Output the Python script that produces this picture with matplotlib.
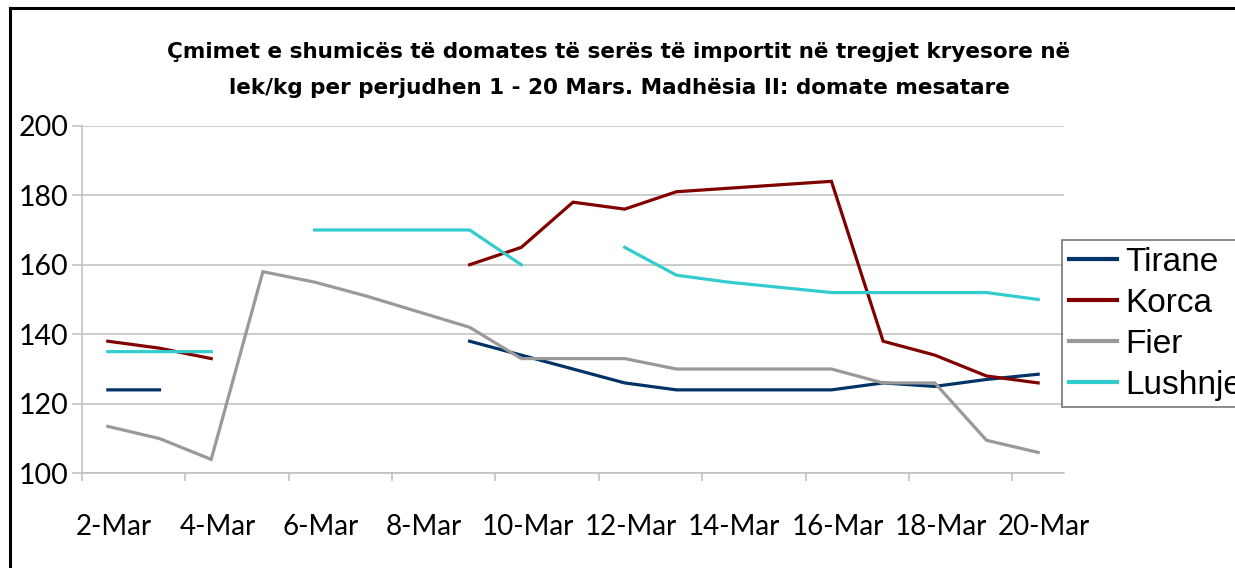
import numpy as np
import matplotlib
matplotlib.use("Agg")
import matplotlib.pyplot as plt
from matplotlib.lines import Line2D

dates = [f"{d}-Mar" for d in range(2, 21)]
nan = np.nan

tirane = [124, 124, nan, nan, nan, nan, nan, 138, 134, 130, 126, 124, 124, 124, 124, 126, 125, 127, 128.5]
korca = [138, 136, 133, nan, nan, nan, nan, 160, 165, 178, 176, 181, 182, 183, 184, 138, 134, 128, 126]
fier = [113.5, 110, 104, 158, 155, 151, 146.5, 142, 133, 133, 133, 130, 130, 130, 130, 126, 126, 109.5, 106]
lushnje = [135, 135, 135, nan, 170, 170, 170, 170, 160, nan, 165, 157, 155, 153.5, 152, 152, 152, 152, 150]

series = [("Tirane", tirane, "#003366"),
          ("Korca", korca, "#800000"),
          ("Fier", fier, "#999999"),
          ("Lushnje", lushnje, "#33CCCC")]

title = ("Çmimet e shumicës të domates të serës të importit në tregjet kryesore në\n"
         "lek/kg per perjudhen 1 - 20 Mars. Madhësia II: domate mesatare")

W, H = 1235, 568
fig = plt.figure(figsize=(W / 100, H / 100), dpi=100)
ax = fig.add_axes([82 / W, 1 - 473.3 / H, (1064 - 82) / W, (473.3 - 125.7) / H])

x = np.arange(len(dates))
for name, vals, col in series:
    ax.plot(x, np.array(vals, dtype=float), color=col, lw=2.3, label=name,
            solid_joinstyle="miter")

ax.set_xlim(-0.5, len(dates) - 0.5)
ax.set_ylim(100, 200)
ax.set_yticks(np.arange(100, 201, 20))
ax.yaxis.grid(True, color="#bfbfbf", lw=1.1)
ax.set_axisbelow(True)

# category axis: ticks between categories, labels every second day
ax.set_xticks(np.arange(-0.5, len(dates) - 0.5, 2))
ax.set_xticklabels([])
ax.set_xticks(x[::2] + 0.12, minor=True)
ax.set_xticklabels(dates[::2], minor=True, fontsize=20, family="Lato")
ax.tick_params(axis="x", which="major", length=6, color="#bfbfbf", width=1.1)
ax.tick_params(axis="x", which="minor", length=0, pad=29)
ax.tick_params(axis="y", length=7, color="#bfbfbf", width=1.1, pad=3)
for lab in ax.get_yticklabels():
    lab.set_fontsize(20.5)
    lab.set_family("Lato")

for s in ["top", "right"]:
    ax.spines[s].set_visible(False)
for s in ["left", "bottom"]:
    ax.spines[s].set_color("#bfbfbf")
    ax.spines[s].set_linewidth(1.1)

fig.text(619 / W, 1 - 70 / H, title, ha="center", va="center", fontsize=15.5,
         fontweight="bold", family="DejaVu Sans", linespacing=2.05)

leg = fig.legend(loc="upper left", bbox_to_anchor=(1062 / W, 1 - 240 / H),
                 prop={"family": "Liberation Sans", "size": 24},
                 frameon=True, fancybox=False, edgecolor="#555555",
                 handlelength=1.45, handletextpad=0.25, borderpad=0.2,
                 labelspacing=0.3, borderaxespad=0)
leg.get_frame().set_linewidth(1.2)
for h in leg.get_lines():
    h.set_linewidth(3)

# outer chart border
fig.add_artist(Line2D([9.5 / W, 1], [1 - 7.5 / H, 1 - 7.5 / H], color="black", lw=2.2))
fig.add_artist(Line2D([9.5 / W, 9.5 / W], [0, 1 - 7.5 / H], color="black", lw=2.2))

fig.savefig("out.png", dpi=100)
